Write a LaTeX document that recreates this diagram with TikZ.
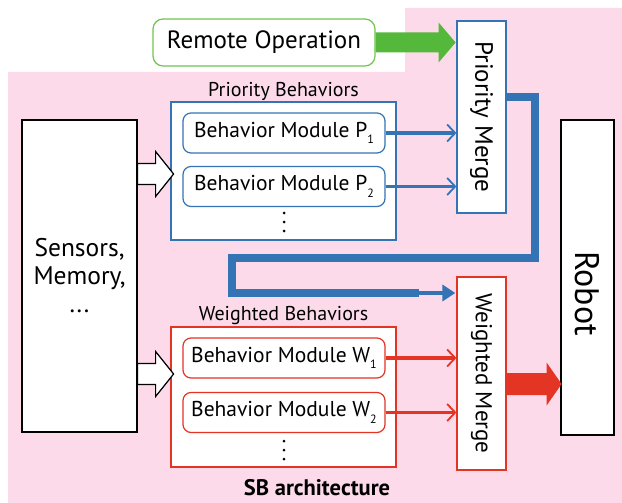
\documentclass[tikz,border=0pt]{standalone}
\usepackage{fontspec}
\setmainfont{PT Sans}
\usetikzlibrary{arrows.meta,positioning}

\definecolor{bgpink}{RGB}{252,218,234}
\definecolor{pblue}{RGB}{52,115,180}
\definecolor{wred}{RGB}{228,52,36}
\definecolor{rgreen}{RGB}{84,184,58}
\definecolor{rgreenline}{RGB}{112,196,82}

\newcommand{\modidx}[1]{\raisebox{-0.6ex}{\fontsize{12}{12}\selectfont #1}}

\tikzset{
  box/.style={draw,fill=white,line width=1.2pt,inner sep=0pt},
  module/.style={box,rounded corners=8pt,minimum width=202pt,minimum height=40pt,font=\fontsize{21.5}{23}\selectfont},
  merge/.style={box,minimum width=49pt},
  grouplabel/.style={font=\fontsize{20}{22}\selectfont,inner sep=1pt},
  thinarrow/.style={line width=3.2pt,-{Straight Barb[length=8pt,width=17pt,line width=1.8pt]}},
  pics/fatarrow/.style n args={4}{code={
    \path[pic actions] (0,{-#2/2}) -- ({#1-#4},{-#2/2}) -- ({#1-#4},{-#3/2}) -- (#1,0)
      -- ({#1-#4},{#3/2}) -- ({#1-#4},{#2/2}) -- (0,{#2/2}) -- cycle;
  }},
}

\begin{document}
\begin{tikzpicture}[x=1pt,y=-1pt]
\useasboundingbox (0,0) rectangle (622,503);

% background
\fill[bgpink] (8,72) -- (405,72) -- (405,8) -- (622,8) -- (622,503) -- (8,503) -- cycle;

% left and right boxes
\node[box,draw=black,minimum width=115pt,minimum height=312pt,align=center,
  font=\fontsize{25.5}{28}\selectfont] (sensors) at (79.5,276) {Sensors,\\Memory,\\...};
\node[box,draw=black,minimum width=53pt,minimum height=315pt] (robot) at (587.5,277.5)
  {\rotatebox{-90}{\fontsize{34}{36}\selectfont\hspace*{32pt}Robot}};

% remote operation
\node[box,draw=rgreenline,rounded corners=10pt,minimum width=222pt,minimum height=47pt,
  font=\fontsize{25}{27}\selectfont] (remote) at (264,42.5) {Remote Operation};

% merges
\node[merge,draw=pblue,minimum height=192pt] (pm) at (481.5,117)
  {\rotatebox{-90}{\fontsize{25}{27}\selectfont Priority Merge}};
\node[merge,draw=wred,minimum height=193pt] (wm) at (481.5,373.5)
  {\rotatebox{-90}{\fontsize{23}{25}\selectfont Weighted Merge}};

% priority behaviors
\node[box,draw=pblue,minimum width=225pt,minimum height=138pt] (pbox) at (283.5,171) {};
\node[grouplabel,above=0pt of pbox] (plabel) {Priority Behaviors};
\node[module,draw=pblue] (p1) at (284,133) {Behavior Module P\modidx{1}};
\node[module,draw=pblue] (p2) at (284,186.5) {Behavior Module P\modidx{2}};
\coordinate (pdots) at (284,222);

% weighted behaviors
\node[box,draw=wred,minimum width=225pt,minimum height=140pt] (wbox) at (283.5,397) {};
\node[grouplabel,above=0pt of wbox] (wlabel) {Weighted Behaviors};
\node[module,draw=wred] (w1) at (284,358) {Behavior Module W\modidx{1}};
\node[module,draw=wred] (w2) at (284,412.5) {Behavior Module W\modidx{2}};
\coordinate (wdots) at (284,450);

\foreach \d in {-9,0,9} {
  \fill ([yshift=\d pt]pdots) circle (1.5pt);
  \fill ([yshift=\d pt]wdots) circle (1.5pt);
}

\node[font=\fontsize{22.5}{24}\selectfont\bfseries] (sblabel) at (317,488) {SB architecture};

% inputs and outputs
\pic[draw=black,fill=white,line width=1.2pt] (inp) at (sensors.east |- 0,174) {fatarrow={36}{21}{45}{18}};
\pic[draw=black,fill=white,line width=1.2pt] (inw) at (sensors.east |- 0,374) {fatarrow={36}{21}{45}{18}};
\pic[fill=rgreen] (remarrow) at (remote.east) {fatarrow={80}{20}{40}{17}};
\pic[fill=wred] (outarrow) at (wm.east |- 0,384) {fatarrow={55}{22}{43}{15}};

% module outputs
\draw[thinarrow,pblue] (p1.east) -- (pm.west |- p1.east);
\draw[thinarrow,pblue] (p2.east) -- (pm.west |- p2.east);
\draw[thinarrow,wred] (w1.east) -- (wm.west |- w1.east);
\draw[thinarrow,wred] (w2.east) -- (wm.west |- w2.east);

% priority to weighted
\coordinate (bend) at (417,293);
\draw[pblue,line width=7.5pt] ([yshift=20pt]pm.east) -| (535,258) -| (232,293) -- ([xshift=2pt]bend);
\draw[pblue,line width=3.5pt,-{Triangle[length=13pt,width=16pt]}] (bend) -- ([xshift=-1pt]wm.west |- bend);
\end{tikzpicture}
\end{document}
